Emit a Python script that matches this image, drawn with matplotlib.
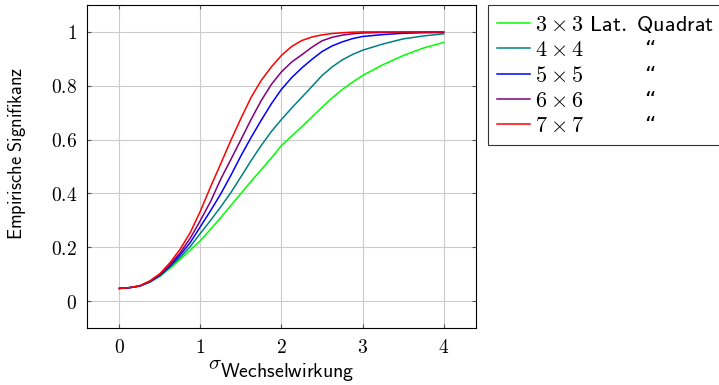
import numpy as np
import matplotlib.pyplot as plt

plt.rcParams['mathtext.fontset'] = 'cm'
plt.rcParams['font.family'] = ['DejaVu Sans']

# sigma_Wechselwirkung values
sigma = [0.0, 0.125, 0.25, 0.375, 0.5, 0.625, 0.75, 0.875, 1.0, 1.125, 1.25, 1.375,
         1.5, 1.625, 1.75, 1.875, 2.0, 2.125, 2.25, 2.375, 2.5, 2.625, 2.75, 2.875,
         3.0, 3.25, 3.5, 3.75, 4.0]

sig_3x3 = [0.047, 0.050, 0.056, 0.070, 0.092, 0.122, 0.155, 0.190, 0.225, 0.267, 0.310, 0.355,
           0.400, 0.445, 0.488, 0.532, 0.578, 0.613, 0.648, 0.684, 0.720, 0.755, 0.786, 0.813,
           0.838, 0.878, 0.912, 0.940, 0.961]
sig_4x4 = [0.047, 0.050, 0.056, 0.071, 0.094, 0.127, 0.163, 0.203, 0.252, 0.300, 0.350, 0.403,
           0.462, 0.522, 0.578, 0.630, 0.675, 0.717, 0.757, 0.797, 0.838, 0.870, 0.896, 0.916,
           0.932, 0.955, 0.974, 0.985, 0.993]
sig_5x5 = [0.047, 0.050, 0.056, 0.072, 0.096, 0.131, 0.172, 0.218, 0.277, 0.336, 0.398, 0.467,
           0.540, 0.608, 0.672, 0.733, 0.787, 0.830, 0.866, 0.898, 0.927, 0.948, 0.963, 0.975,
           0.983, 0.990, 0.995, 0.997, 0.998]
sig_6x6 = [0.047, 0.050, 0.056, 0.073, 0.098, 0.136, 0.180, 0.234, 0.300, 0.370, 0.453, 0.526,
           0.600, 0.675, 0.745, 0.805, 0.852, 0.888, 0.915, 0.943, 0.967, 0.980, 0.988, 0.993,
           0.996, 0.998, 0.999, 1.000, 1.000]
sig_7x7 = [0.047, 0.050, 0.057, 0.075, 0.102, 0.143, 0.193, 0.255, 0.335, 0.425, 0.510, 0.597,
           0.679, 0.757, 0.820, 0.870, 0.913, 0.946, 0.968, 0.981, 0.989, 0.994, 0.997, 0.999,
           1.000, 1.000, 1.000, 1.000, 1.000]

series = [sig_3x3, sig_4x4, sig_5x5, sig_6x6, sig_7x7]
colors = ['#00ff00', '#008080', '#0000ff', '#800080', '#ff0000']
labels = [r'$3\times3$ $\mathsf{Lat.\ Quadrat}$',
          r'$4\times4\hspace{3.2}$' + '\u201c',
          r'$5\times5\hspace{3.2}$' + '\u201c',
          r'$6\times6\hspace{3.2}$' + '\u201c',
          r'$7\times7\hspace{3.2}$' + '\u201c']

fig = plt.figure(figsize=(7.19, 3.85), dpi=100)
ax = fig.add_axes([0.121, 0.148, 0.541, 0.839])

for vals, c, lab in zip(series, colors, labels):
    ax.plot(sigma, vals, color=c, lw=1.1, label=lab)

ax.set_xlim(-0.4, 4.4)
ax.set_ylim(-0.1, 1.1)
ax.set_xticks([0, 1, 2, 3, 4])
ax.set_xticklabels([r'$0$', r'$1$', r'$2$', r'$3$', r'$4$'])
ax.set_yticks([0, 0.2, 0.4, 0.6, 0.8, 1.0])
ax.set_yticklabels([r'$0$', r'$0.2$', r'$0.4$', r'$0.6$', r'$0.8$', r'$1$'])
ax.tick_params(direction='in', length=3, color='#555555', labelsize=14,
               top=True, right=True, pad=7)
ax.grid(True, color='#cccccc', lw=0.8)
for s in ax.spines.values():
    s.set_linewidth(0.8)

ax.set_ylabel(r'$\mathsf{Empirische\ Signifikanz}$', fontsize=13.3)
ax.yaxis.set_label_coords(-0.152, 0.542)

# x label: sigma raised, Wechselwirkung at normal size
fig.text(0.289, 0.042, r'$\sigma$', fontsize=15, ha='left', va='baseline')
fig.text(0.306, 0.021, r'$\mathsf{Wechselwirkung}$', fontsize=14.3, ha='left', va='baseline')

leg = ax.legend(loc='upper left', bbox_to_anchor=(0.679, 0.987),
                bbox_transform=fig.transFigure, fontsize=16, frameon=True,
                fancybox=False, edgecolor='black', handlelength=1.5,
                handletextpad=0.2, labelspacing=0.24, borderpad=0.4,
                borderaxespad=0)
leg.get_frame().set_linewidth(0.8)

fig.savefig('out.png', dpi=100)
